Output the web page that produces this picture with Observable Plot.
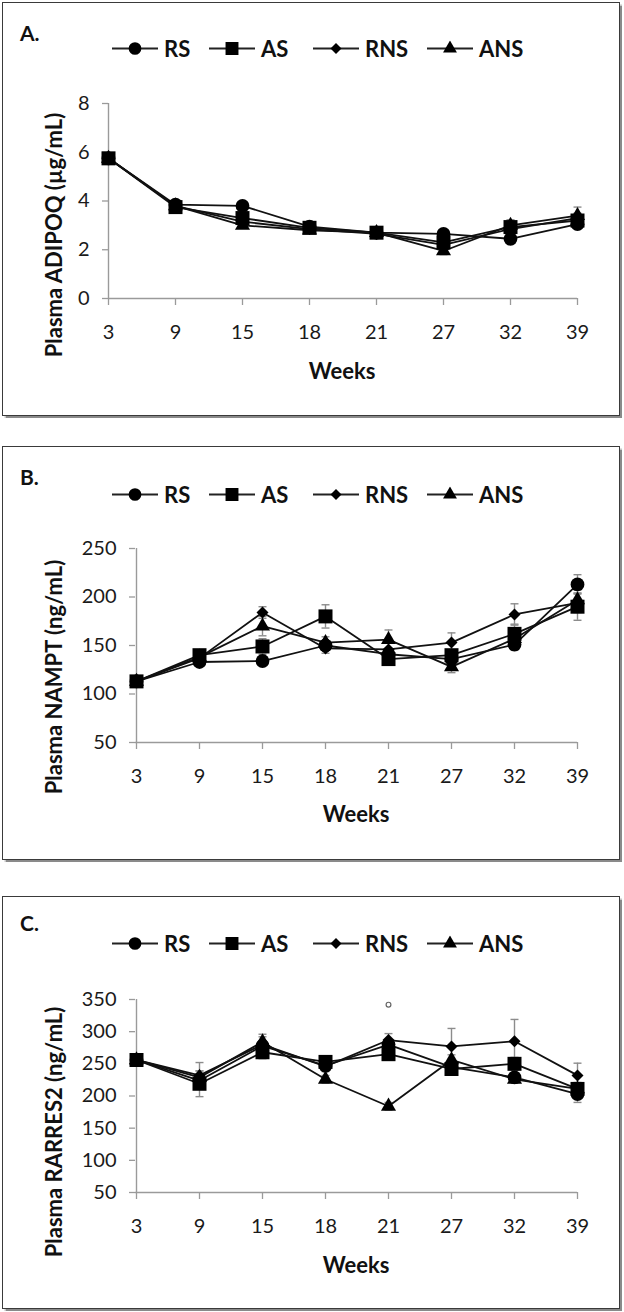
<!DOCTYPE html>
<html><head><meta charset="utf-8">
<script src="https://cdn.jsdelivr.net/npm/d3@7"></script>
<script src="https://cdn.jsdelivr.net/npm/@observablehq/plot@0.6"></script>
<style>
body{margin:0;background:#fff;font-family:Lato,"Open Sans",sans-serif;color:#111;}
#root{position:relative;width:624px;height:1312px;overflow:hidden;background:#fff;}
.box{position:absolute;left:2px;width:616px;border:1.5px solid #3a3a3a;box-shadow:1.5px 1.5px 1px #8a8a8a;}
.plot{position:absolute;left:0;}
.plab{position:absolute;left:20px;font-weight:bold;font-size:21px;transform:translateY(-50%);}
.ytitle{position:absolute;font-weight:bold;font-size:22px;white-space:nowrap;transform:translate(-50%,-50%) rotate(-90deg);}
.xtitle{position:absolute;font-weight:bold;font-size:22px;white-space:nowrap;transform:translate(-50%,-50%);}
.leg{position:absolute;display:flex;align-items:center;transform:translateY(-50%);font-weight:bold;font-size:22px;}
.leg svg{margin-right:6px;}
</style>
</head><body><div id="root"></div>
<script>
// ---- categories ----
const weeks = ["3","9","15","18","21","27","32","39"];
const groups = ["RS","AS","RNS","ANS"];

// ---- Panel A: Plasma ADIPOQ (µg/mL) ----
const adipoqRS  = [5.75, 3.85, 3.80, 2.95, 2.70, 2.65, 2.45, 3.05];
const adipoqAS  = [5.75, 3.75, 3.30, 2.90, 2.70, 2.30, 2.93, 3.20];
const adipoqRNS = [5.75, 3.80, 3.15, 2.85, 2.65, 2.20, 2.85, 3.30];
const adipoqANS = [5.75, 3.80, 3.00, 2.80, 2.70, 1.95, 3.00, 3.40];
const adipoqSE_RS  = [0.10, 0.10, 0.15, 0.10, 0.10, 0.10, 0.15, 0.12];
const adipoqSE_AS  = [0.10, 0.10, 0.15, 0.10, 0.10, 0.15, 0.30, 0.15];
const adipoqSE_RNS = [0.10, 0.10, 0.12, 0.10, 0.10, 0.15, 0.20, 0.20];
const adipoqSE_ANS = [0.10, 0.10, 0.12, 0.10, 0.10, 0.15, 0.20, 0.35];
const adipoqTicks = [0, 2, 4, 6, 8];

// ---- Panel B: Plasma NAMPT (ng/mL) ----
const namptRS  = [113, 133, 134, 150, 141, 136, 151, 213];
const namptAS  = [113, 140, 149, 180, 136, 140, 162, 190];
const namptRNS = [113, 137, 184, 147, 146, 153, 182, 194];
const namptANS = [113, 138, 170, 153, 156, 128, 157, 197];
const namptSE_RS  = [3, 4, 4, 5, 6, 5, 6, 10];
const namptSE_AS  = [3, 4, 8, 12, 6, 5, 10, 14];
const namptSE_RNS = [3, 4, 6, 5, 8, 10, 11, 10];
const namptSE_ANS = [3, 4, 10, 6, 10, 6, 6, 10];
const namptTicks = [50, 100, 150, 200, 250];

// ---- Panel C: Plasma RARRES2 (ng/mL) ----
const rarresRS  = [256, 224, 278, 247, 280, 245, 229, 203];
const rarresAS  = [256, 219, 268, 253, 265, 242, 250, 211];
const rarresRNS = [256, 232, 280, 246, 287, 277, 285, 232];
const rarresANS = [256, 229, 284, 226, 184, 256, 226, 211];
const rarresSE_RS  = [5, 8, 8, 6, 8, 8, 7, 13];
const rarresSE_AS  = [5, 20, 10, 8, 8, 8, 10, 10];
const rarresSE_RNS = [5, 20, 12, 8, 10, 28, 34, 19];
const rarresSE_ANS = [5, 10, 12, 6, 6, 8, 6, 8];
const rarresTicks = [50, 100, 150, 200, 250, 300, 350];
const rarresMarkWeek = ["21"];
const rarresMarkValue = [342];

function tidy(vals, ses) {
  const out = [];
  groups.forEach((g, gi) => weeks.forEach((w, i) => out.push({group: g, week: w, v: vals[gi][i], se: ses[gi][i]})));
  return out;
}

const symbolOf = {RS: "circle", AS: "square", RNS: "diamond2", ANS: "triangle"};
const rOf = {RS: 6.9, AS: 7.9, RNS: 5.4, ANS: 5.6};
const cap = {draw(ctx, size) { const w = Math.sqrt(size) / 2; ctx.moveTo(-w, 0); ctx.lineTo(w, 0); }};

const panels = [
  {key: "A.", top: 0, h: 420, boxTop: 2, boxH: 412, mt: 103, mb: 122, ml: 108, domain: [0, 8], ticks: adipoqTicks,
   data: tidy([adipoqRS, adipoqAS, adipoqRNS, adipoqANS], [adipoqSE_RS, adipoqSE_AS, adipoqSE_RNS, adipoqSE_ANS]),
   title: "Plasma ADIPOQ (µg/mL)", labY: 32, legY: 48, yTitleY: 235, xTitleY: 370, xc: 342},
  {key: "B.", top: 440, h: 430, boxTop: 446, boxH: 412, mt: 108, mb: 128, ml: 135, domain: [50, 250], ticks: namptTicks,
   data: tidy([namptRS, namptAS, namptRNS, namptANS], [namptSE_RS, namptSE_AS, namptSE_RNS, namptSE_ANS]),
   title: "Plasma NAMPT (ng/mL)", labY: 476, legY: 494, yTitleY: 677, xTitleY: 813, xc: 356},
  {key: "C.", top: 880, h: 432, boxTop: 896, boxH: 411, mt: 119, mb: 120, ml: 135, domain: [50, 350], ticks: rarresTicks,
   data: tidy([rarresRS, rarresAS, rarresRNS, rarresANS], [rarresSE_RS, rarresSE_AS, rarresSE_RNS, rarresSE_ANS]),
   title: "Plasma RARRES2 (ng/mL)", labY: 922, legY: 943, yTitleY: 1132, xTitleY: 1264, xc: 356,
   extra: rarresMarkWeek.map((w, i) => ({week: w, v: rarresMarkValue[i]}))}
];

const root = document.getElementById("root");
const legX = [112, 209, 313, 427];

function legendSym(g) {
  const sz = Math.PI * rOf[g] * rOf[g] * 0.85;
  const path = d3.symbol(g === "RS" ? d3.symbolCircle : g === "AS" ? d3.symbolSquare : g === "RNS" ? d3.symbolDiamond2 : d3.symbolTriangle, sz)();
  return `<svg width="46" height="16" viewBox="-23 -8 46 16"><line x1="-23" x2="23" y1="0" y2="0" stroke="#222" stroke-width="1.8"/><path d="${path}" fill="#000"/></svg>`;
}

panels.forEach(p => {
  const box = document.createElement("div");
  box.className = "box"; box.style.top = p.boxTop + "px"; box.style.height = p.boxH + "px";
  root.appendChild(box);

  const marks = [
    Plot.ruleY([p.domain[0]], {stroke: "#9a9a9a", strokeWidth: 1.4}),
    Plot.ruleX([weeks[0]], {stroke: "#9a9a9a", strokeWidth: 1.4}),
    Plot.axisY({ticks: p.ticks, tickSize: 6, tickPadding: 13, fontSize: 20, stroke: "#9a9a9a", strokeWidth: 1.3, fill: "#1a1a1a", label: null, tickFormat: d3.format("d")}),
    Plot.axisX({tickSize: 7, tickPadding: 19, fontSize: 20, stroke: "#9a9a9a", strokeWidth: 1.3, fill: "#1a1a1a", label: null}),
    Plot.ruleX(p.data, {x: "week", y1: d => d.v - d.se, y2: d => d.v + d.se, stroke: "#8c8c8c", strokeWidth: 1.4}),
    Plot.dot(p.data, {x: "week", y: d => d.v + d.se, symbol: cap, r: 4.5, fill: "none", stroke: "#8c8c8c", strokeWidth: 1.4}),
    Plot.dot(p.data, {x: "week", y: d => d.v - d.se, symbol: cap, r: 4.5, fill: "none", stroke: "#8c8c8c", strokeWidth: 1.4}),
    Plot.line(p.data, {x: "week", y: "v", z: "group", stroke: "#111", strokeWidth: 1.8}),
    ...["RS", "RNS", "ANS", "AS"].map(g => Plot.dot(p.data.filter(d => d.group === g), {x: "week", y: "v", symbol: symbolOf[g], r: rOf[g], fill: "#000", stroke: "none"}))
  ];
  if (p.extra) marks.push(Plot.dot(p.extra, {x: "week", y: "v", r: 2.4, fill: "none", stroke: "#666", strokeWidth: 1.2}));

  const svg = Plot.plot({
    width: 624, height: p.h,
    marginTop: p.mt, marginBottom: p.mb, marginLeft: p.ml, marginRight: 47,
    style: {fontFamily: "Lato, sans-serif", background: "transparent", overflow: "visible"},
    x: {type: "point", domain: weeks, padding: 0},
    y: {domain: p.domain},
    marks
  });
  svg.classList.add("plot");
  svg.style.top = p.top + "px";
  root.appendChild(svg);

  const lab = document.createElement("div");
  lab.className = "plab"; lab.textContent = p.key; lab.style.top = p.labY + "px";
  root.appendChild(lab);

  groups.forEach((g, i) => {
    const it = document.createElement("div");
    it.className = "leg"; it.style.left = legX[i] + "px"; it.style.top = p.legY + "px";
    it.innerHTML = legendSym(g) + `<span>${g}</span>`;
    root.appendChild(it);
  });

  const yt = document.createElement("div");
  yt.className = "ytitle"; yt.textContent = p.title; yt.style.left = "53px"; yt.style.top = p.yTitleY + "px";
  root.appendChild(yt);

  const xt = document.createElement("div");
  xt.className = "xtitle"; xt.textContent = "Weeks"; xt.style.left = p.xc + "px"; xt.style.top = p.xTitleY + "px";
  root.appendChild(xt);
});
</script>
</body></html>
